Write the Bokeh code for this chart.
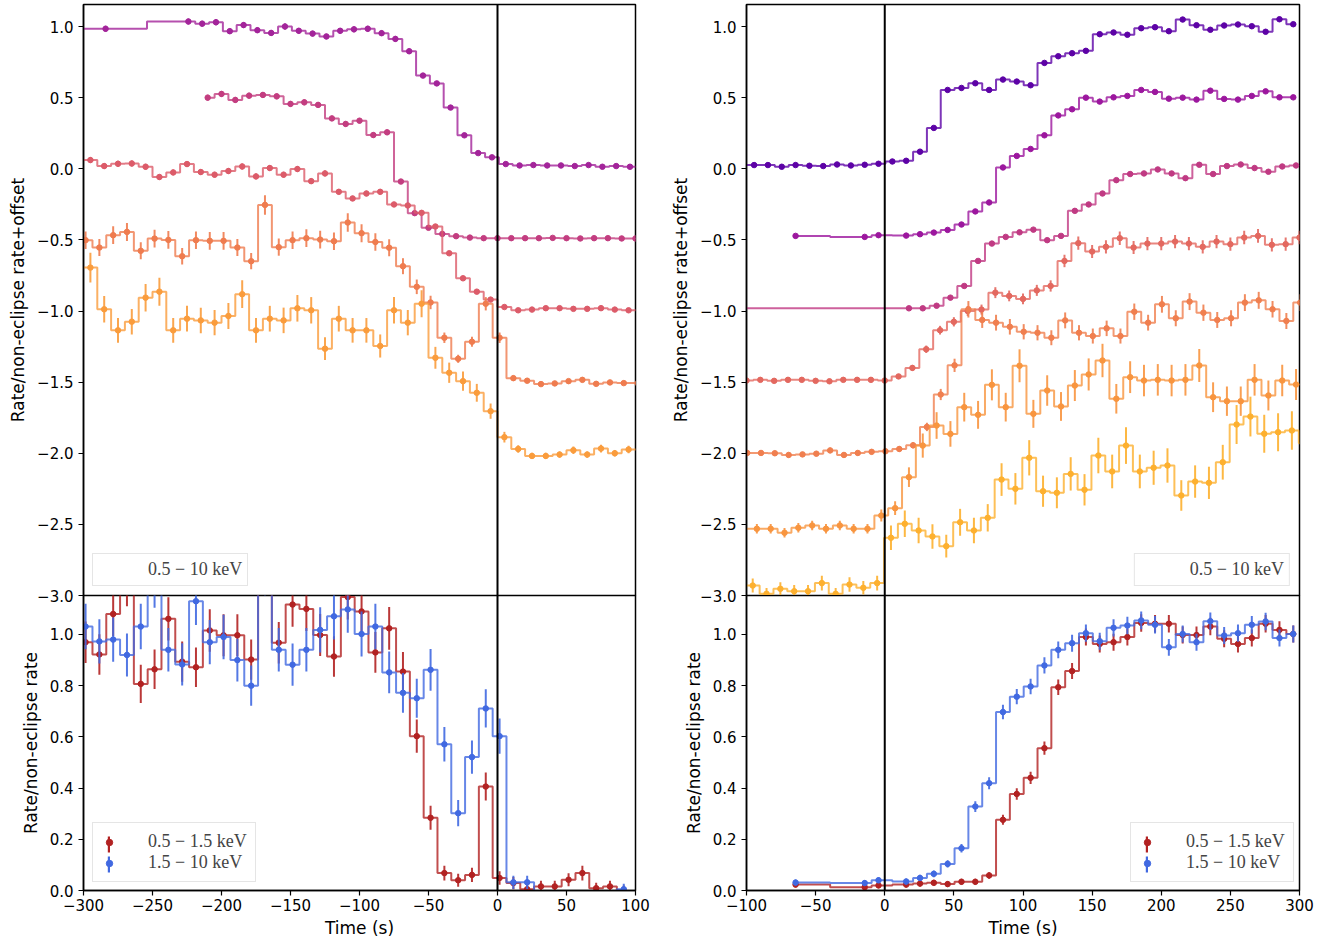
import numpy as np
from bokeh.plotting import figure
from bokeh.layouts import row, column
from bokeh.models import Span, Legend, LegendItem, CustomJSTickFormatter, FixedTicker
from bokeh.embed import file_html
from bokeh.resources import INLINE

# ---------------- data: ingress (left column) ----------------
TL1_T = [-314, -284] + list(range(-224, 107, 10))
TL1_R = [0.984, 0.984, 1.035, 1.02, 1.03, 0.967, 1.01, 0.974, 0.955, 1.0, 0.97, 0.95,
         0.93, 0.97, 0.98, 0.984, 0.953, 0.913, 0.826, 0.655, 0.60, 0.43, 0.235, 0.11,
         0.08, 0.033, 0.023, 0.026, 0.023, 0.023, 0.019, 0.026, 0.014, 0.019, 0.014, 0.014]
TL2_T = list(range(-210, 101, 10))
TL2_R = [1.0, 1.026, 0.984, 1.014, 1.019, 1.009, 0.956, 0.967, 0.949, 0.854,
         0.815, 0.838, 0.737, 0.756, 0.41, 0.188, 0.085, 0.042, 0.026, 0.016,
         0.012, 0.012, 0.012, 0.012, 0.012, 0.014, 0.012, 0.010, 0.012, 0.012, 0.010, 0.010]
TL3_T = list(range(-305, 106, 10))
TL3_R = [1.061, 1.061, 1.019, 1.035, 1.037, 1.014, 0.942, 0.974, 1.033, 0.977,
         0.958, 0.984, 1.016, 0.946, 1.005, 0.958, 0.998, 0.913, 0.967, 0.838,
         0.791, 0.826, 0.838, 0.749, 0.742, 0.69, 0.594, 0.406, 0.23, 0.136,
         0.08, 0.028, 0.005, 0.01, 0.02, 0.02, 0.015, 0.015, 0.02, 0.01,
         0.005, 0.005]
TL4_T = list(np.arange(-308.5, 102, 10))
TL4_R = [0.998, 0.998, 0.946, 1.033, 1.056, 0.923, 1.009, 1.0, 0.885, 0.998,
         0.993, 0.993, 0.946, 0.85, 1.246, 0.949, 0.998, 1.012, 1.002, 0.991,
         1.122, 1.047, 0.985, 0.945, 0.815, 0.67, 0.56, 0.312, 0.164, 0.284,
         0.551, 0.312, 0.028, 0.01, -0.014, -0.009, 0.007, 0.016, -0.012, -0.002,
         -0.007, -0.007]
TL5_T = list(range(-305, 106, 10))
TL5_R = [1.305, 1.305, 1.012, 0.864, 0.925, 1.094, 1.136, 0.864, 0.946, 0.934,
         0.918, 0.965, 1.118, 0.864, 0.946, 0.934, 1.019, 1.005, 0.735, 0.946,
         0.864, 0.864, 0.754, 1.005, 0.918, 1.051, 0.671, 0.566, 0.507, 0.425,
         0.296, 0.113, 0.03, -0.019, -0.019, -0.009, 0.021, -0.009, 0.033, 0.0,
         0.026, 0.026]
TL_SERIES = [(TL1_T, TL1_R), (TL2_T, TL2_R), (TL3_T, TL3_R), (TL4_T, TL4_R), (TL5_T, TL5_R)]
TL_OFFSETS = [0.0, -0.5, -1.0, -1.5, -2.0]
TL_ERR = [0.02, 0.02, 0.02, 0.06, 0.09]
TL_COLORS = ["#a3249a", "#c33d80", "#dc5b69", "#ef7c4f", "#fa9c3c"]

BL_T = list(np.arange(-308.5, 92, 10))
BL_SOFT = [0.97, 0.97, 0.922, 1.08, 1.2, 0.807, 0.864, 1.061, 0.894, 0.872,
           1.016, 0.997, 0.997, 0.902, 1.3, 0.968, 1.117, 1.10, 0.998, 0.914,
           1.146, 1.09, 0.93, 1.024, 0.855, 0.603, 0.284, 0.068, 0.04, 0.061,
           0.406, 0.049, 0.029, 0.005, 0.016, 0.016, 0.042, 0.068, 0.009, 0.016,
           0.0]
BL_HARD = [1.031, 1.031, 0.973, 0.98, 0.92, 1.031, 1.2, 0.94, 0.883, 1.13,
           0.97, 0.99, 0.90, 0.80, 1.25, 0.94, 0.882, 0.94, 1.018, 1.071,
           1.098, 1.002, 1.031, 0.852, 0.772, 0.751, 0.862, 0.571, 0.302, 0.521,
           0.711, 0.603, 0.032, 0.032, -0.02, -0.02, -0.02, -0.02, -0.02, -0.02,
           0.005]
BL_ERR = [0.08, 0.085]

# ---------------- data: egress (right column) ----------------
TR1_T = [-104.5] + list(np.arange(-94.5, 296, 10))
TR1_R = [0.026, 0.026, 0.026, 0.014, 0.026, 0.021, 0.019, 0.03, 0.023, 0.028,
         0.035, 0.051, 0.056, 0.12, 0.287, 0.554, 0.568, 0.601, 0.554, 0.627,
         0.613, 0.587, 0.744, 0.791, 0.812, 0.829, 0.946, 0.958, 0.942, 0.988,
         0.995, 0.967, 1.049, 1.009, 0.977, 1.007, 1.014, 1.002, 0.963, 1.051, 1.016]
TR2_T = [-64.5, -14.5, -4.5] + list(np.arange(15.5, 296, 10))
TR2_R = [0.028, 0.021, 0.033,
         0.03, 0.04, 0.051, 0.07, 0.108, 0.2, 0.263, 0.509, 0.59, 0.639,
         0.735, 0.875, 0.918, 1.0, 0.972, 1.002, 1.012, 1.054, 1.04, 0.993,
         1.0, 0.986, 1.049, 0.991, 0.986, 1.012, 1.044, 1.002, 1.002]
TR3_T = [-102.5] + list(np.arange(17.5, 298, 10))
TR3_R = [0.019,
         0.019, 0.019, 0.037, 0.094, 0.176, 0.352, 0.474, 0.521, 0.553, 0.572,
         0.498, 0.528, 0.704, 0.749, 0.826, 0.92, 0.963, 0.967, 0.995, 0.967,
         0.934, 1.028, 0.963, 1.019, 1.03, 1.005, 0.979, 1.016, 1.023]
TR4_T = list(np.arange(-110, 301, 10))
TR4_R = [0.011, 0.011, 0.016, 0.009, 0.016, 0.016, 0.009, 0.006, 0.016, 0.016,
         0.016, 0.011, 0.04, 0.1, 0.231, 0.365, 0.424, 0.5, 0.51, 0.629,
         0.606, 0.585, 0.645, 0.676, 0.852, 0.977, 0.918, 0.951, 1.012, 0.946,
         0.974, 0.974, 0.988, 0.974, 0.951, 0.988, 0.97, 1.016, 1.028, 0.965,
         0.97, 1.016]
TR5_T = list(np.arange(-109.5, 301, 10))
TR5_R = [0.002, 0.002, 0.002, 0.0, -0.012, -0.008, -0.003, 0.02, -0.012, 0.002,
         0.01, 0.014, 0.03, 0.056, 0.185, 0.413, 0.618, 1.012, 0.937, 0.918,
         0.889, 0.854, 0.847, 0.812, 0.934, 0.847, 0.824, 0.878, 0.824, 0.995,
         0.918, 1.047, 0.949, 1.066, 0.988, 0.937, 0.949, 1.059, 1.075, 1.012,
         0.93, 1.059]
TR6_T = list(np.arange(-102.5, 308, 10))
TR6_R = [-0.031,
         -0.031, -0.031, -0.059, -0.024, -0.008, -0.031, -0.008, -0.031, -0.031, 0.062,
         0.114, 0.332, 0.554, 0.695, 0.636, 0.824, 0.77, 0.981, 0.824, 1.115,
         0.777, 0.941, 0.829, 0.976, 1.054, 1.152, 0.883, 1.035, 1.011, 1.016,
         1.011, 1.016, 1.117, 0.894, 0.866, 0.866, 1.016, 0.906, 1.011, 0.983,
         0.983]
TR7_T = list(np.arange(-105.5, 305, 10))
TR7_R = [0.07,
         0.07, 0.012, 0.047, 0.03, 0.03, 0.087, 0.012, 0.077, 0.054, 0.087,
         0.406, 0.504, 0.457, 0.415, 0.347, 0.515, 0.457, 0.546, 0.815, 0.75,
         0.968, 0.733, 0.722, 0.855, 0.743, 0.984, 0.872, 1.054, 0.872, 0.898,
         0.914, 0.703, 0.801, 0.792, 0.937, 1.202, 1.258, 1.137, 1.148, 1.16,
         1.07]
TR_SERIES = [(TR1_T, TR1_R), (TR2_T, TR2_R), (TR3_T, TR3_R), (TR4_T, TR4_R),
             (TR5_T, TR5_R), (TR6_T, TR6_R), (TR7_T, TR7_R)]
TR_OFFSETS = [0.0, -0.5, -1.0, -1.5, -2.0, -2.5, -3.0]
TR_ERR = [0.012, 0.012, 0.015, 0.045, 0.055, 0.105, 0.12]
TR_COLORS = ["#5d02a6", "#9c179e", "#c03a83", "#e3685f", "#f07f4f", "#f8953f", "#fdb02f"]

BR_T = [-64.5, -14.5, -4.5] + list(np.arange(15.5, 296, 10))
BR_SOFT = [0.023, 0.013, 0.02,
           0.023, 0.027, 0.03, 0.025, 0.034, 0.034, 0.059, 0.276, 0.377, 0.44,
           0.556, 0.794, 0.857, 0.99, 0.963, 0.97, 0.99, 1.045, 1.042, 1.042,
           0.998, 0.998, 1.031, 0.983, 0.963, 0.986, 1.042, 1.018, 1.002]
BR_HARD = [0.031, 0.029, 0.04,
           0.035, 0.049, 0.065, 0.104, 0.165, 0.328, 0.419, 0.697, 0.757, 0.797,
           0.879, 0.94, 0.966, 1.005, 0.974, 1.026, 1.035, 1.055, 1.038, 0.95,
           1.002, 0.97, 1.052, 0.996, 1.005, 1.038, 1.051, 0.986, 1.002]
BR_ERR = [0.032, 0.032]

BAND_LABELS = ["0.5 \u2212 1.5 keV", "1.5 \u2212 10 keV"]
BAND_COLORS = ["#b22222", "#4169e1"]
TOTAL_LABEL = "0.5 \u2212 10 keV"

TOP_YTICKS = [-3.0, -2.5, -2.0, -1.5, -1.0, -0.5, 0.0, 0.5, 1.0]
BOT_YTICKS = [0.0, 0.2, 0.4, 0.6, 0.8, 1.0]
LEFT_XTICKS = [-300, -250, -200, -150, -100, -50, 0, 50, 100]
RIGHT_XTICKS = [-100, -50, 0, 50, 100, 150, 200, 250, 300]

# ---------------- styling ----------------
TICK_FONT = "DejaVu Sans"
LABEL_FONT = "DejaVu Sans"
LEGEND_FONT = "Liberation Serif"
LEGEND_SIZE = "18px"
TOP_BOTTOM_BORDER = 12

YFMT = CustomJSTickFormatter(code="return tick.toFixed(1).replace('-', '\u2212');")
XFMT = CustomJSTickFormatter(code="return tick.toFixed(0).replace('-', '\u2212');")


def make_fig(xr, yr, fw, fh, bl, br, bt, bb, has_xaxis):
    p = figure(x_range=xr, y_range=yr, frame_width=fw, frame_height=fh,
               min_border_left=bl, min_border_right=br, min_border_top=bt,
               min_border_bottom=bb, output_backend="svg", toolbar_location=None,
               x_axis_location="below" if has_xaxis else None)
    p.xgrid.visible = False
    p.ygrid.visible = False
    p.outline_line_color = "black"
    p.outline_line_width = 1.5
    p.outline_line_alpha = 1.0
    p.background_fill_color = "white"
    for ax in p.axis:
        ax.axis_line_color = "black"
        ax.axis_line_width = 1.5
        ax.major_tick_line_color = "black"
        ax.major_tick_line_width = 1.2
        ax.major_tick_out = 5
        ax.major_tick_in = 0
        ax.minor_tick_line_color = None
        ax.major_label_text_font = TICK_FONT
        ax.major_label_text_font_size = "15px"
        ax.major_label_text_color = "black"
        ax.axis_label_text_font = LABEL_FONT
        ax.axis_label_text_font_size = "17px"
        ax.axis_label_text_font_style = "normal"
        ax.axis_label_text_color = "black"
    return p


def draw_series(p, t, rate, offset, err_scale, err_floor, color):
    t = np.asarray(t, float)
    r = np.asarray(rate, float)
    y = r + offset
    e = err_scale * np.sqrt(np.clip(r, 0, None) + err_floor)
    p.step(t, y, mode="center", line_color=color, line_width=2, line_alpha=0.8)
    p.segment(t, y - e, t, y + e, line_color=color, line_width=2, line_alpha=0.9)
    p.scatter(t, y, marker="circle", size=5.5, fill_color=color, line_color=color)


def add_zero_line(p):
    p.add_layout(Span(location=0, dimension="height", line_color="black", line_width=2))


def total_legend(p, loc):
    dummy = p.scatter([np.nan], [np.nan], marker="circle", size=1, alpha=0)
    leg = Legend(items=[LegendItem(label=TOTAL_LABEL, renderers=[dummy])],
                 location=loc, margin=9, padding=5, spacing=0,
                 glyph_width=16, glyph_height=18, label_standoff=34,
                 label_text_font=LEGEND_FONT, label_text_font_size=LEGEND_SIZE,
                 border_line_color="#cccccc", border_line_width=1,
                 background_fill_color="white", background_fill_alpha=0.8)
    p.add_layout(leg)


def band_legend(p, vx):
    """Legend with an error-bar style handle: a dot (main legend) plus a
    thin vertical bar drawn by a transparent companion legend on top."""
    dot_items, bar_items = [], []
    for lab, col in zip(BAND_LABELS, BAND_COLORS):
        dot = p.scatter([np.nan], [np.nan], marker="circle", size=6,
                        fill_color=col, line_color=col)
        bar = p.vbar(x=[np.nan], top=[np.nan], bottom=[np.nan], width=1,
                     fill_color=col, line_color=None)
        dot_items.append(LegendItem(label=lab, renderers=[dot]))
        bar_items.append(LegendItem(label=" ", renderers=[bar]))
    main = Legend(items=dot_items, location=(vx, 8), margin=0, padding=8, spacing=0,
                  glyph_width=16, glyph_height=20, label_standoff=31,
                  label_text_font=LEGEND_FONT, label_text_font_size=LEGEND_SIZE,
                  border_line_color="#cccccc", border_line_width=1,
                  background_fill_color="white", background_fill_alpha=0.8)
    bars = Legend(items=bar_items, location=(vx + 6.5, 8), margin=0, padding=8, spacing=0,
                  glyph_width=3, glyph_height=20, label_standoff=0,
                  label_text_font=LEGEND_FONT, label_text_font_size=LEGEND_SIZE,
                  border_line_alpha=0, background_fill_alpha=0)
    p.add_layout(main)
    p.add_layout(bars)


def style_y(p, ticks, label):
    p.yaxis.ticker = FixedTicker(ticks=ticks)
    p.yaxis.formatter = YFMT
    p.yaxis.axis_label = label
    p.yaxis.axis_label_standoff = 6


def style_x(p, ticks):
    p.xaxis.ticker = FixedTicker(ticks=ticks)
    p.xaxis.formatter = XFMT
    p.xaxis.axis_label = "Time (s)"
    p.xaxis.axis_label_standoff = 4
    p.xaxis.major_label_standoff = 3


TOP_YR = (-3.0, 1.1547)
BOT_YR = (0.0, 1.1523)

# ---- top left
tl = make_fig((-300, 100), TOP_YR, 552, 591, 83, 15, 4, TOP_BOTTOM_BORDER, False)
for (t, r), off, es, col in zip(TL_SERIES, TL_OFFSETS, TL_ERR, TL_COLORS):
    draw_series(tl, t, r, off, es, 0.06, col)
add_zero_line(tl)
style_y(tl, TOP_YTICKS, "Rate/non-eclipse rate+offset")
total_legend(tl, "bottom_left")

# ---- bottom left
bl = make_fig((-300, 100), BOT_YR, 552, 295, 83, 15, 0, 54, True)
for r, es, col in zip([BL_SOFT, BL_HARD], BL_ERR, BAND_COLORS):
    draw_series(bl, BL_T, r, 0.0, es, 0.06, col)
add_zero_line(bl)
style_y(bl, BOT_YTICKS, "Rate/non-eclipse rate")
style_x(bl, LEFT_XTICKS)
band_legend(bl, 9)

# ---- top right
tr = make_fig((-100, 300), TOP_YR, 553, 591, 96, 32, 4, TOP_BOTTOM_BORDER, False)
for (t, r), off, es, col in zip(TR_SERIES, TR_OFFSETS, TR_ERR, TR_COLORS):
    draw_series(tr, t, r, off, es, 0.1, col)
add_zero_line(tr)
style_y(tr, TOP_YTICKS, "Rate/non-eclipse rate+offset")
total_legend(tr, "bottom_right")

# ---- bottom right
br = make_fig((-100, 300), BOT_YR, 553, 295, 96, 32, 0, 54, True)
for r, es, col in zip([BR_SOFT, BR_HARD], BR_ERR, BAND_COLORS):
    draw_series(br, BR_T, r, 0.0, es, 0.1, col)
add_zero_line(br)
style_y(br, BOT_YTICKS, "Rate/non-eclipse rate")
style_x(br, RIGHT_XTICKS)
band_legend(br, 384)

for p in (bl, br):
    p.margin = (-TOP_BOTTOM_BORDER, 0, 0, 0)
    p.border_fill_alpha = 0.0

layout = row(column(tl, bl), column(tr, br))
open("out.html", "w").write(file_html(layout, INLINE, title="Eclipse light curves"))
